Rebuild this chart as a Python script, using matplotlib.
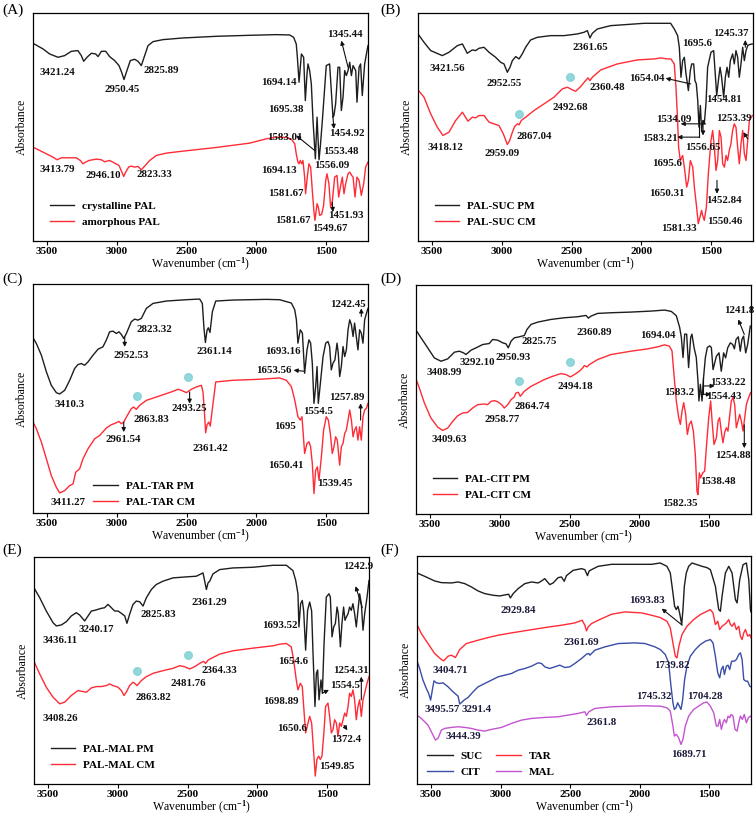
import numpy as np
import matplotlib
matplotlib.use("Agg")
import matplotlib.pyplot as plt

plt.rcParams['font.family'] = ['Liberation Serif', 'DejaVu Serif']
plt.rcParams['font.weight'] = 'bold'
plt.rcParams['mathtext.fontset'] = 'custom'
plt.rcParams['mathtext.rm'] = 'Liberation Serif:bold'
plt.rcParams['mathtext.it'] = 'Liberation Serif:bold'
plt.rcParams['mathtext.bf'] = 'Liberation Serif:bold'

# ---------------- data: [wavenumber (cm-1), absorbance (a.u.)] ----------------
A_black = np.array([[3600,594],[3528,577],[3481,562],[3421,552],[3373,557],[3325,570],[3278,572],[3254,557],[3237,540],[3213,552],[3182,564],[3151,562],[3134,554],[3110,570],[3079,570],[3051,554],[3015,542],[2984,527],[2965,507],[2948,485],[2931,507],[2903,542],[2872,546],[2848,540],[2824,527],[2800,557],[2776,587],[2740,599],[2669,605],[2525,610],[2287,615],[2048,618],[1857,620],[1761,619],[1733,612],[1714,592],[1706,552],[1694,477],[1685,522],[1677,562],[1661,552],[1649,422],[1637,502],[1630,532],[1618,512],[1606,472],[1594,362],[1577,247],[1565,372],[1551,244],[1542,282],[1527,362],[1510,462],[1499,527],[1475,532],[1463,452],[1451,372],[1444,377],[1432,412],[1415,522],[1403,522],[1391,392],[1379,432],[1367,512],[1355,497],[1343,512],[1331,537],[1319,497],[1307,527],[1288,512],[1279,417],[1264,522],[1253,532],[1241,437],[1224,532],[1207,572],[1200,587]])
A_red = np.array([[3600,282],[3528,267],[3457,252],[3428,244],[3397,250],[3290,250],[3261,242],[3242,232],[3223,237],[3199,242],[3146,246],[3110,244],[3087,238],[3051,242],[3015,234],[2984,227],[2950,194],[2936,207],[2915,222],[2896,225],[2872,222],[2848,224],[2824,214],[2800,225],[2764,242],[2716,257],[2645,264],[2525,270],[2287,281],[2048,294],[1928,307],[1857,312],[1785,311],[1749,306],[1725,292],[1714,262],[1702,237],[1694,232],[1685,242],[1675,232],[1666,242],[1654,192],[1647,142],[1635,192],[1623,232],[1611,222],[1599,152],[1587,87],[1580,62],[1565,112],[1556,102],[1546,77],[1532,80],[1518,107],[1503,182],[1494,202],[1480,172],[1468,102],[1456,117],[1439,192],[1422,197],[1410,132],[1398,162],[1384,192],[1372,142],[1360,172],[1343,202],[1331,207],[1317,197],[1307,192],[1293,132],[1279,192],[1264,182],[1248,137],[1231,172],[1217,222],[1200,237]])

B_black = np.array([[3600,622],[3557,597],[3509,572],[3426,557],[3378,567],[3318,587],[3282,592],[3247,564],[3211,574],[3187,572],[3163,579],[3127,582],[3091,567],[3044,552],[3008,537],[2984,532],[2960,507],[2941,522],[2924,542],[2900,554],[2876,547],[2853,562],[2829,582],[2793,604],[2745,612],[2650,617],[2554,617],[2459,622],[2411,627],[2387,632],[2368,610],[2351,624],[2315,637],[2220,647],[1981,654],[1790,654],[1764,637],[1740,617],[1728,582],[1716,492],[1704,542],[1692,552],[1680,502],[1663,452],[1649,512],[1639,532],[1625,532],[1616,482],[1606,472],[1596,422],[1587,342],[1577,407],[1568,332],[1558,362],[1549,352],[1537,412],[1525,522],[1501,567],[1482,572],[1472,512],[1460,437],[1448,482],[1436,522],[1425,492],[1410,432],[1398,492],[1386,522],[1374,492],[1362,542],[1346,562],[1334,532],[1322,572],[1310,552],[1298,492],[1286,532],[1274,582],[1262,542],[1250,572],[1238,587],[1226,590],[1205,592]])
B_red = np.array([[3600,454],[3557,432],[3509,382],[3462,342],[3421,317],[3378,327],[3330,362],[3282,387],[3242,360],[3211,372],[3187,370],[3163,377],[3127,377],[3091,357],[3056,352],[3020,347],[2989,322],[2960,290],[2943,302],[2924,327],[2907,344],[2888,352],[2876,349],[2860,362],[2829,372],[2769,392],[2697,412],[2626,432],[2566,457],[2530,462],[2494,454],[2470,450],[2435,464],[2399,482],[2382,490],[2368,482],[2351,492],[2291,514],[2172,532],[2029,544],[1909,547],[1862,550],[1814,547],[1788,547],[1764,532],[1752,462],[1740,362],[1733,282],[1721,242],[1704,257],[1692,222],[1675,162],[1663,182],[1649,242],[1632,222],[1620,162],[1604,102],[1592,52],[1580,72],[1568,92],[1561,77],[1549,62],[1534,102],[1520,202],[1501,302],[1489,332],[1477,282],[1465,212],[1453,242],[1441,332],[1429,312],[1417,232],[1405,222],[1393,257],[1382,242],[1370,272],[1358,292],[1346,332],[1334,352],[1322,342],[1310,282],[1298,232],[1286,292],[1274,332],[1262,262],[1250,242],[1238,302],[1226,362],[1205,377]])

C_black = np.array([[3600,524],[3576,507],[3540,472],[3504,422],[3469,382],[3433,360],[3409,356],[3373,367],[3337,397],[3302,432],[3278,444],[3254,447],[3230,442],[3206,452],[3170,472],[3134,490],[3099,497],[3075,517],[3051,542],[3027,544],[3003,537],[2984,542],[2967,534],[2950,522],[2931,537],[2896,572],[2872,580],[2848,577],[2824,582],[2788,612],[2740,627],[2645,634],[2501,638],[2406,640],[2387,627],[2375,552],[2365,510],[2353,547],[2344,554],[2332,540],[2315,602],[2291,634],[2167,637],[1928,639],[1833,638],[1749,628],[1725,608],[1713,578],[1702,508],[1685,548],[1670,538],[1654,418],[1637,488],[1623,518],[1611,508],[1599,448],[1587,328],[1575,378],[1565,438],[1556,328],[1546,368],[1534,418],[1522,468],[1503,508],[1487,513],[1475,498],[1463,428],[1451,448],[1437,458],[1422,508],[1413,478],[1403,408],[1391,438],[1379,498],[1367,468],[1355,488],[1343,548],[1331,578],[1319,563],[1307,528],[1296,568],[1284,528],[1272,488],[1260,548],[1248,538],[1236,508],[1224,578],[1207,603],[1200,612]])
C_red = np.array([[3600,272],[3576,252],[3540,212],[3504,162],[3469,112],[3433,77],[3409,60],[3373,67],[3337,82],[3313,87],[3294,122],[3266,132],[3242,162],[3206,192],[3158,222],[3122,232],[3075,254],[3039,264],[3003,270],[2984,274],[2967,267],[2950,272],[2931,287],[2896,312],[2879,317],[2860,310],[2836,322],[2788,337],[2716,347],[2645,357],[2597,364],[2561,370],[2537,367],[2501,360],[2466,370],[2430,377],[2394,382],[2382,362],[2372,302],[2363,240],[2353,264],[2341,272],[2330,260],[2315,312],[2291,392],[2167,397],[1976,400],[1833,404],[1785,397],[1749,378],[1725,338],[1702,288],[1685,278],[1673,288],[1666,248],[1654,178],[1637,208],[1623,213],[1611,198],[1599,148],[1587,58],[1575,128],[1563,138],[1551,98],[1534,168],[1518,248],[1499,288],[1484,278],[1470,238],[1456,178],[1444,198],[1432,228],[1420,218],[1403,143],[1391,198],[1379,208],[1367,238],[1355,248],[1343,278],[1331,308],[1319,278],[1307,228],[1296,248],[1284,258],[1272,218],[1260,258],[1248,218],[1236,288],[1224,308],[1212,313],[1200,328]])

D_black = np.array([[3600,550],[3564,527],[3516,497],[3469,467],[3421,457],[3373,464],[3325,484],[3290,487],[3259,482],[3242,477],[3206,490],[3170,497],[3122,507],[3075,510],[3051,522],[3015,520],[2979,512],[2955,509],[2939,497],[2919,517],[2896,527],[2860,530],[2824,534],[2805,552],[2776,567],[2728,574],[2633,582],[2537,587],[2442,590],[2382,594],[2365,586],[2346,592],[2299,600],[2203,602],[2060,604],[1916,607],[1819,610],[1771,606],[1735,593],[1711,558],[1699,528],[1687,468],[1675,538],[1661,538],[1647,438],[1632,528],[1623,538],[1608,498],[1592,468],[1580,398],[1573,338],[1563,388],[1551,338],[1542,398],[1527,468],[1513,498],[1496,503],[1484,498],[1472,432],[1448,472],[1429,482],[1413,427],[1396,482],[1382,467],[1367,497],[1348,512],[1331,507],[1319,494],[1307,522],[1291,530],[1277,487],[1265,522],[1253,532],[1238,482],[1224,507],[1205,562]])
D_red = np.array([[3600,404],[3576,377],[3540,332],[3493,287],[3445,260],[3409,250],[3373,257],[3337,277],[3301,294],[3266,302],[3230,304],[3194,317],[3158,327],[3110,329],[3087,327],[3063,337],[3039,339],[3015,336],[2986,327],[2967,317],[2943,327],[2919,342],[2896,350],[2884,362],[2867,364],[2853,352],[2824,367],[2776,382],[2728,392],[2681,402],[2633,410],[2585,417],[2561,420],[2525,417],[2494,410],[2466,417],[2430,427],[2406,437],[2394,444],[2375,440],[2358,447],[2299,462],[2203,477],[2060,487],[1940,494],[1869,500],[1819,506],[1785,502],[1766,488],[1752,418],[1735,338],[1718,288],[1706,268],[1694,308],[1682,333],[1668,298],[1656,238],[1642,268],[1628,278],[1613,248],[1599,178],[1587,68],[1580,58],[1570,123],[1561,108],[1546,123],[1532,128],[1520,198],[1503,288],[1489,338],[1477,268],[1465,208],[1448,228],[1436,278],[1425,288],[1413,248],[1401,213],[1389,243],[1377,258],[1365,248],[1353,293],[1341,338],[1329,348],[1317,328],[1305,258],[1293,278],[1281,298],[1269,278],[1257,248],[1245,288],[1233,328],[1217,348],[1203,363]])

E_black = np.array([[3600,592],[3559,562],[3512,522],[3464,487],[3440,477],[3404,480],[3368,490],[3333,507],[3297,517],[3273,510],[3237,492],[3213,507],[3189,522],[3165,524],[3142,527],[3118,530],[3094,532],[3070,542],[3046,532],[3022,522],[2998,522],[2974,515],[2950,507],[2934,485],[2915,512],[2891,542],[2867,552],[2843,550],[2819,537],[2795,562],[2759,587],[2724,602],[2676,612],[2604,622],[2509,625],[2437,627],[2389,637],[2377,612],[2365,587],[2353,607],[2341,612],[2318,634],[2270,647],[2174,652],[2031,654],[1888,660],[1792,660],[1745,644],[1725,614],[1709,574],[1702,474],[1690,544],[1678,554],[1668,522],[1654,404],[1640,524],[1625,549],[1611,522],[1601,394],[1587,234],[1577,334],[1568,344],[1558,254],[1544,314],[1534,274],[1522,424],[1506,564],[1487,574],[1477,564],[1465,444],[1453,474],[1441,484],[1429,534],[1420,514],[1405,414],[1394,484],[1382,534],[1372,494],[1362,504],[1350,514],[1339,534],[1327,524],[1315,544],[1303,514],[1291,474],[1279,524],[1267,574],[1255,544],[1243,464],[1231,514],[1214,564],[1200,614]])
E_red = np.array([[3600,370],[3559,332],[3512,292],[3464,262],[3416,242],[3380,247],[3333,267],[3285,282],[3249,279],[3225,277],[3189,290],[3153,294],[3118,294],[3082,297],[3058,302],[3034,297],[2998,292],[2974,282],[2955,267],[2939,277],[2915,297],[2891,307],[2879,304],[2862,297],[2831,312],[2795,324],[2747,334],[2676,342],[2604,349],[2556,357],[2521,354],[2485,347],[2449,354],[2413,364],[2385,370],[2370,364],[2353,374],[2270,392],[2174,402],[2031,410],[1888,417],[1840,422],[1792,424],[1757,414],[1740,374],[1721,314],[1709,284],[1692,304],[1678,294],[1668,234],[1654,154],[1637,184],[1625,204],[1611,184],[1596,94],[1585,24],[1573,74],[1561,84],[1549,74],[1537,84],[1525,144],[1511,234],[1494,244],[1482,204],[1470,154],[1458,164],[1446,194],[1434,184],[1422,144],[1410,184],[1398,174],[1386,194],[1374,214],[1362,204],[1350,234],[1339,274],[1327,264],[1315,284],[1303,254],[1291,194],[1279,234],[1267,254],[1255,204],[1243,254],[1231,274],[1214,304],[1200,324]])

F_suc = np.array([[3600,634],[3545,624],[3473,610],[3425,605],[3353,604],[3305,607],[3257,602],[3209,592],[3161,580],[3113,572],[3053,567],[3005,565],[2957,569],[2941,570],[2929,559],[2909,572],[2873,587],[2825,602],[2777,607],[2730,604],[2705,610],[2682,617],[2646,599],[2622,604],[2586,620],[2562,622],[2542,609],[2526,626],[2478,642],[2418,647],[2394,644],[2375,626],[2363,640],[2346,644],[2298,654],[2202,660],[2058,660],[1914,660],[1852,664],[1804,654],[1780,634],[1761,574],[1749,534],[1737,524],[1725,534],[1713,514],[1698,479],[1689,524],[1679,594],[1665,634],[1648,654],[1624,664],[1588,659],[1552,654],[1516,650],[1492,644],[1456,594],[1432,524],[1420,519],[1408,564],[1384,634],[1360,654],[1336,634],[1312,554],[1300,544],[1281,614],[1257,659],[1233,664],[1216,614],[1204,524],[1200,517]])
F_tar = np.array([[3600,479],[3569,452],[3521,422],[3473,392],[3425,374],[3408,370],[3377,384],[3353,387],[3324,380],[3293,404],[3245,422],[3161,432],[3089,440],[3017,447],[2921,454],[2801,462],[2682,470],[2562,477],[2466,484],[2413,492],[2394,477],[2382,460],[2370,472],[2346,482],[2298,492],[2202,510],[2106,517],[1986,514],[1914,507],[1852,500],[1804,489],[1780,469],[1761,424],[1744,384],[1732,379],[1718,414],[1696,449],[1660,474],[1612,494],[1564,509],[1516,519],[1492,524],[1473,514],[1456,479],[1439,489],[1425,464],[1408,474],[1391,479],[1377,484],[1360,494],[1348,479],[1336,474],[1320,484],[1305,464],[1288,474],[1276,444],[1264,434],[1252,454],[1240,464],[1224,444],[1209,449],[1200,439]])
F_cit = np.array([[3600,370],[3581,347],[3557,312],[3533,287],[3516,272],[3502,252],[3490,282],[3478,310],[3461,304],[3437,302],[3413,304],[3377,292],[3341,277],[3305,264],[3293,240],[3262,252],[3233,260],[3197,277],[3161,292],[3113,302],[3065,312],[3017,322],[2921,332],[2873,342],[2825,347],[2777,354],[2730,364],[2705,362],[2682,352],[2646,347],[2610,352],[2574,357],[2538,350],[2502,352],[2466,362],[2418,377],[2382,390],[2365,392],[2358,387],[2322,402],[2250,412],[2154,422],[2034,424],[1962,422],[1890,412],[1852,404],[1816,389],[1792,364],[1775,294],[1761,244],[1751,224],[1739,229],[1727,244],[1715,234],[1703,224],[1691,254],[1677,314],[1660,354],[1636,384],[1600,404],[1564,419],[1528,429],[1492,434],[1473,424],[1456,384],[1439,334],[1425,319],[1413,344],[1401,354],[1391,329],[1377,354],[1365,357],[1353,344],[1339,369],[1320,369],[1305,374],[1288,389],[1276,394],[1264,374],[1252,314],[1238,309],[1224,309],[1209,294],[1200,292]])
F_mal = np.array([[3600,207],[3569,197],[3521,177],[3485,147],[3468,132],[3449,137],[3425,162],[3401,167],[3353,170],[3305,172],[3257,170],[3209,167],[3161,162],[3113,159],[3065,164],[2993,170],[2921,182],[2849,192],[2777,197],[2682,200],[2586,202],[2514,207],[2442,212],[2394,217],[2382,206],[2365,217],[2322,227],[2202,232],[2058,234],[1962,235],[1890,234],[1852,234],[1804,229],[1780,219],[1761,174],[1751,144],[1737,149],[1720,139],[1703,119],[1689,134],[1672,174],[1648,204],[1612,224],[1576,234],[1540,244],[1516,246],[1492,234],[1468,214],[1449,174],[1437,174],[1425,194],[1413,164],[1401,184],[1391,194],[1377,184],[1365,204],[1353,199],[1343,209],[1329,204],[1315,164],[1300,159],[1288,184],[1276,204],[1262,194],[1248,209],[1233,184],[1219,199],[1204,204],[1200,202]])

x_ticks = [3500, 3000, 2500, 2000, 1500]

# ---------------- styling ----------------
BLACK = '#1e1e1e'
RED = '#ff2b36'
BLUE = '#3a4da6'
MAG = '#c455d0'
CYAN = '#86d3d6'
FS_ANN = 7.8

W, H = 756, 817
fig = plt.figure(figsize=(W/100, H/100), dpi=100)

def axes_px(l, t, r, b):
    return fig.add_axes([l/W, 1-b/H, (r-l)/W, (b-t)/H])

ax_pos = {
    'A': (33, 13, 368, 241), 'B': (418, 13, 753, 241),
    'C': (33, 284, 368, 513), 'D': (416, 285, 751, 514),
    'E': (34, 557, 369, 784), 'F': (417, 556, 751, 784),
}
letter_pos = {'A': (2, 10), 'B': (380, 10), 'C': (2, 279), 'D': (380, 279),
              'E': (2, 550), 'F': (380, 550)}

def base(ax):
    ax.set_xlim(3600, 1200)
    ax.set_ylim(0, 685)
    ax.set_xticks(x_ticks)
    ax.set_yticks([])
    ax.tick_params(axis='x', direction='out', length=3, width=0.8, labelsize=8, pad=1.5)
    for s in ax.spines.values():
        s.set_linewidth(0.9)
    ax.set_xlabel('Wavenumber (cm$^{-1}$)', fontsize=8.5, labelpad=0)
    ax.set_ylabel('Absorbance', fontsize=8.5, labelpad=4)

def add_text(ax, items, color='#111111'):
    for s, x, y in items:
        ax.text(x, y, s, ha='center', va='center', fontsize=FS_ANN, color=color)

def add_arrows(ax, items):
    for x0, y0, x1, y1 in items:
        ax.annotate('', xy=(x1, y1), xytext=(x0, y0),
                    arrowprops=dict(arrowstyle='-|>', lw=0.8, color='#111111',
                                    mutation_scale=6, shrinkA=0, shrinkB=0))

def add_dots(ax, pts):
    for x, y in pts:
        ax.plot([x], [y], marker='o', ms=5.5, color=CYAN, mec=CYAN, alpha=0.9)

def two_legend(ax, l1, l2, h, anchor=(0.05, 0.06)):
    ax.legend(h, [l1, l2], loc='lower left', bbox_to_anchor=anchor,
              frameon=False, fontsize=8, handlelength=2.2, handletextpad=0.7,
              labelspacing=0.6, borderpad=0, borderaxespad=0)

axes = {k: axes_px(*v) for k, v in ax_pos.items()}
for k, (x, y) in letter_pos.items():
    fig.text(x/W, 1-y/H, '(%s)' % k, fontsize=11, fontweight='normal', va='center', ha='left')

# ---- A ----
ax = axes['A']; base(ax)
h1, = ax.plot(A_black[:, 0], A_black[:, 1], color=BLACK, lw=1.0)
h2, = ax.plot(A_red[:, 0], A_red[:, 1], color=RED, lw=1.0)
two_legend(ax, 'crystalline PAL', 'amorphous PAL', [h1, h2])
add_text(ax, [('3421.24', 3428, 507), ('2950.45', 2960, 454), ('2825.89', 2681, 512),
              ('1694.14', 1838, 477), ('1695.38', 1785, 395), ('1345.44', 1367, 619),
              ('1583.01', 1797, 312), ('1454.92', 1355, 324), ('1553.48', 1391, 270),
              ('1556.09', 1463, 227), ('3413.79', 3428, 215), ('2946.10', 3094, 197),
              ('2823.33', 2728, 200), ('1694.13', 1838, 212), ('1581.67', 1785, 144),
              ('1581.67', 1737, 62), ('1451.93', 1360, 77), ('1549.67', 1475, 37)])
add_arrows(ax, [(1343, 522, 1391, 602), (1582, 272, 1714, 317),
                (1451, 372, 1444, 337), (1456, 117, 1451, 87)])

# ---- B ----
ax = axes['B']; base(ax)
h1, = ax.plot(B_black[:, 0], B_black[:, 1], color=BLACK, lw=1.0)
h2, = ax.plot(B_red[:, 0], B_red[:, 1], color=RED, lw=1.0)
two_legend(ax, 'PAL-SUC PM', 'PAL-SUC CM', [h1, h2])
add_text(ax, [('3421.56', 3390, 517), ('2952.55', 2984, 472), ('2361.65', 2363, 582),
              ('1695.6', 1599, 592), ('1245.37', 1360, 622), ('1654.04', 1962, 487),
              ('2360.48', 2244, 460), ('2492.68', 2506, 400), ('2867.04', 2769, 315),
              ('3418.12', 3402, 282), ('2959.09', 2996, 264), ('1534.09', 1766, 364),
              ('1583.21', 1866, 307), ('1556.65', 1563, 282), ('1253.39', 1336, 367),
              ('1695.6', 1814, 232), ('1650.31', 1814, 144), ('1452.84', 1408, 122),
              ('1581.33', 1730, 37), ('1550.46', 1403, 60), ('1454.81', 1408, 424)])
ax.plot([1587, 1587], [377, 312], color='#111111', lw=0.8)
add_arrows(ax, [(1647, 472, 1826, 489), (1539, 352, 1718, 352), (1587, 312, 1742, 312),
                (1558, 362, 1558, 317), (1238, 307, 1269, 327), (1255, 582, 1255, 604),
                (1458, 182, 1458, 142)])
add_dots(ax, [(2876, 382), (2511, 492)])

# ---- C ----
ax = axes['C']; base(ax)
h1, = ax.plot(C_black[:, 0], C_black[:, 1], color=BLACK, lw=1.0)
h2, = ax.plot(C_red[:, 0], C_red[:, 1], color=RED, lw=1.0)
two_legend(ax, 'PAL-TAR PM', 'PAL-TAR CM', [h1, h2], anchor=(0.18, 0.025))
add_text(ax, [('2823.32', 2728, 550), ('2952.53', 2896, 470), ('2361.14', 2299, 484),
              ('1693.16', 1809, 484), ('1242.45', 1343, 624), ('1653.56', 1876, 427),
              ('3410.3', 3337, 324), ('1554.5', 1559, 304), ('2493.25', 2478, 312),
              ('2863.83', 2752, 279), ('1257.89', 1355, 344), ('1695', 1797, 260),
              ('2961.54', 2950, 220), ('2361.42', 2330, 192), ('1650.41', 1785, 142),
              ('1539.45', 1439, 87), ('3411.27', 3349, 32)])
add_arrows(ax, [(2943, 527, 2943, 497), (1654, 424, 1733, 427), (1248, 588, 1248, 612),
                (2478, 362, 2478, 327), (2950, 272, 2950, 242), (1253, 278, 1253, 328)])
add_dots(ax, [(2855, 350), (2490, 407)])

# ---- D ----
ax = axes['D']; base(ax)
h1, = ax.plot(D_black[:, 0], D_black[:, 1], color=BLACK, lw=1.0)
h2, = ax.plot(D_red[:, 0], D_red[:, 1], color=RED, lw=1.0)
two_legend(ax, 'PAL-CIT PM', 'PAL-CIT CM', [h1, h2])
add_text(ax, [('1241.8', 1284, 610), ('2825.75', 2716, 517), ('2360.89', 2322, 542),
              ('1694.04', 1869, 534), ('3408.99', 3397, 422), ('3292.10', 3163, 454),
              ('2950.93', 2907, 467), ('2494.18', 2461, 382), ('2864.74', 2764, 322),
              ('1533.22', 1367, 392), ('1583.2', 1713, 362), ('1554.43', 1391, 352),
              ('2958.77', 2986, 282), ('3409.63', 3361, 222), ('1254.88', 1331, 174),
              ('1538.48', 1434, 97), ('1582.35', 1713, 32)])
ax.plot([1546, 1546], [408, 358], color='#111111', lw=0.8)
add_arrows(ax, [(1248, 537, 1291, 582), (1544, 383, 1460, 383), (1558, 358, 1487, 358),
                (1248, 267, 1248, 197)])
add_dots(ax, [(2860, 397), (2494, 454)])

# ---- E ----
ax = axes['E']; base(ax)
h1, = ax.plot(E_black[:, 0], E_black[:, 1], color=BLACK, lw=1.0)
h2, = ax.plot(E_red[:, 0], E_red[:, 1], color=RED, lw=1.0)
two_legend(ax, 'PAL-MAL PM', 'PAL-MAL CM', [h1, h2])
add_text(ax, [('1242.9', 1279, 657), ('2361.29', 2342, 547), ('2825.83', 2712, 510),
              ('1693.52', 1840, 479), ('3240.17', 3153, 467), ('3436.11', 3416, 432),
              ('1654.6', 1745, 370), ('2364.33', 2270, 344), ('1254.31', 1327, 344),
              ('2481.76', 2497, 304), ('1554.5', 1374, 297), ('2863.82', 2747, 262),
              ('1698.89', 1835, 250), ('3408.26', 3411, 197), ('1650.6', 1749, 167),
              ('1372.4', 1362, 134), ('1549.85', 1429, 54)])
add_arrows(ax, [(1248, 532, 1296, 597), (1534, 274, 1487, 284), (1255, 254, 1255, 324),
                (1379, 177, 1355, 162)])
add_dots(ax, [(2860, 340), (2497, 390)])

# ---- F ----
ax = axes['F']; base(ax)
hs, = ax.plot(F_suc[:, 0], F_suc[:, 1], color=BLACK, lw=1.0)
ht, = ax.plot(F_tar[:, 0], F_tar[:, 1], color=RED, lw=1.0)
hc, = ax.plot(F_cit[:, 0], F_cit[:, 1], color=BLUE, lw=1.0)
hm, = ax.plot(F_mal[:, 0], F_mal[:, 1], color=MAG, lw=1.0)
ax.legend([hs, hc, ht, hm], ['SUC', 'CIT', 'TAR', 'MAL'], ncol=2, loc='lower left',
          bbox_to_anchor=(0.03, 0.03), frameon=False, fontsize=8, handlelength=2.3,
          handletextpad=0.7, labelspacing=0.6, columnspacing=1.2, borderpad=0,
          borderaxespad=0)
add_text(ax, [('2929.84', 2873, 522), ('1693.83', 1950, 552), ('2361.69', 2418, 424),
              ('3404.71', 3358, 340), ('1739.82', 1770, 357), ('1745.32', 1895, 262),
              ('1704.28', 1531, 262), ('3495.57', 3420, 225), ('3291.4', 3173, 225),
              ('2361.8', 2274, 184), ('3444.39', 3269, 144), ('1689.71', 1650, 90)],
         color='#1a1a3a')
add_arrows(ax, [(1694, 477, 1842, 527)])

fig.savefig('out.png', dpi=100)
